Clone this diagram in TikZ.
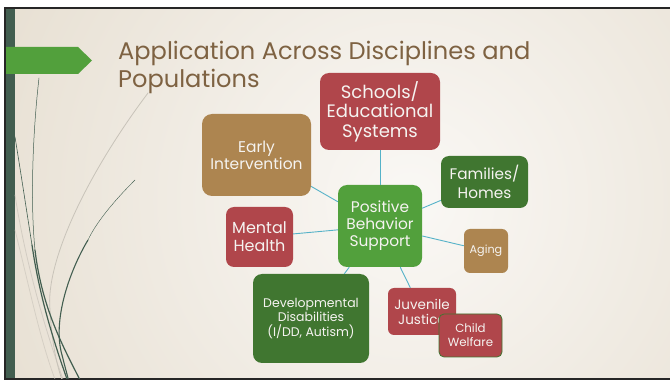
\documentclass[tikz,border=0pt]{standalone}
\usepackage{fontspec}
\setmainfont{Poppins}
\definecolor{bgin}{RGB}{250,248,245}
\definecolor{bgout}{RGB}{226,217,201}
\definecolor{barcol}{RGB}{66,94,80}
\definecolor{arrowgreen}{RGB}{82,160,60}
\definecolor{titlecol}{RGB}{126,98,66}
\definecolor{redbox}{RGB}{176,70,75}
\definecolor{brownbox}{RGB}{173,133,80}
\definecolor{darkgreenbox}{RGB}{64,118,48}
\definecolor{greenbox}{RGB}{82,160,60}
\definecolor{linkcol}{RGB}{85,178,200}
\definecolor{txtcol}{RGB}{245,243,240}
\definecolor{greycurve}{RGB}{200,195,185}
\tikzset{
  box/.style={rounded corners=#1, text=txtcol, align=center, inner sep=0pt},
  box/.default=8pt,
  link/.style={draw=linkcol, line width=0.9pt},
  deco/.style={draw=barcol, line cap=round},
  decogrey/.style={draw=greycurve, line cap=round}
}
\begin{document}
\begin{tikzpicture}[x=1pt,y=-1pt]
\useasboundingbox (0,0) rectangle (670,382);
\fill[white] (0,0) rectangle (670,382);
% slide background
\begin{scope}
\clip (5,9) rectangle (670,378);
\shade[inner color=bgin, outer color=bgout] (410,200) circle (580);
\end{scope}
% frame lines
\fill[black!85] (4,7) rectangle (670,9);
\fill[black!85] (4,7) rectangle (6,380);
\fill[black!85] (4,378) rectangle (670,380);
% dark bar
\fill[barcol] (6,9) rectangle (15,378);
% decorative curves
\begin{scope}
\clip (6,9) rectangle (670,378);
\draw[decogrey, line width=0.8pt] (148,93) .. controls (90,170) and (45,260) .. (50,310) .. controls (52,345) and (57,365) .. (62,380);
\draw[decogrey, line width=0.8pt, opacity=0.7] (15,195) .. controls (25,260) and (45,330) .. (64,382);
\draw[decogrey, line width=0.8pt, opacity=0.6] (15,230) .. controls (30,290) and (40,340) .. (56,382);
\draw[deco, line width=0.5pt] (39,78) .. controls (33,130) and (30,200) .. (35,250);
\draw[deco, line width=1.2pt] (35,250) .. controls (42,310) and (65,350) .. (81,382);
\draw[deco, line width=0.6pt] (15,137) .. controls (22,180) and (28,220) .. (32,245);
\draw[deco, line width=1.2pt] (32,245) .. controls (40,300) and (55,345) .. (68,382);
\draw[deco, line width=0.4pt] (135,180) .. controls (110,205) and (95,225) .. (88,240);
\draw[deco, line width=1.1pt] (88,240) .. controls (70,270) and (52,320) .. (62,355) .. controls (65,367) and (67,374) .. (69,382);
\end{scope}
% green arrow
\fill[arrowgreen] (6,47) -- (78,47) -- (92,60.5) -- (78,74) -- (6,74) -- cycle;
% title
\node[anchor=base west, text=titlecol, font=\fontsize{24.1}{28}\selectfont, inner sep=0pt] (title1) at (118,60) {Application Across Disciplines and};
\node[anchor=base west, text=titlecol, font=\fontsize{24.1}{28}\selectfont, inner sep=0pt] (title2) at (118,88) {Populations};
% nodes
\node[box=9pt, fill=greenbox, minimum width=84pt, minimum height=82pt, font=\fontsize{15.4}{17}\selectfont] (pbs) at (380,226) {Positive\\Behavior\\Support};
\node[box=9pt, fill=redbox, minimum width=120pt, minimum height=77pt, font=\fontsize{18}{19.5}\selectfont] (school) at (380,111.5) {Schools/\\Educational\\Systems};
\node[box=10pt, fill=brownbox, minimum width=109pt, minimum height=82pt, font=\fontsize{15.5}{17}\selectfont] (early) at (256.5,155) {Early\\Intervention};
\node[box=8pt, fill=darkgreenbox, minimum width=87pt, minimum height=52pt, font=\fontsize{15.3}{19}\selectfont] (family) at (484.5,182) {Families/\\Homes};
\node[box=8pt, fill=redbox, minimum width=67pt, minimum height=60pt, font=\fontsize{16}{18}\selectfont] (mental) at (259.5,237) {Mental\\Health};
\node[box=6pt, fill=brownbox, minimum width=44pt, minimum height=44pt, font=\fontsize{11.2}{13}\selectfont] (aging) at (486,251) {Aging};
\node[box=9pt, fill=darkgreenbox, minimum width=116pt, minimum height=89pt, font=\fontsize{12.5}{14.5}\selectfont] (dev) at (311,318.5) {Developmental\\Disabilities\\(I/DD, Autism)};
\node[box=6pt, fill=redbox, minimum width=68pt, minimum height=47pt, font=\fontsize{13.5}{15}\selectfont] (juv) at (422,311.5) {Juvenile\\Justice};
\node[box=5pt, fill=redbox, draw=darkgreenbox, line width=0.8pt, minimum width=63pt, minimum height=43pt, font=\fontsize{11.8}{14}\selectfont] (child) at (470.5,335.5) {Child\\Welfare};
% connectors
\draw[link] (pbs) -- (school);
\draw[link] (pbs) -- (early);
\draw[link] (pbs) -- (family);
\draw[link] (pbs) -- (mental);
\draw[link] (pbs) -- (aging);
\draw[link] (pbs) -- (dev);
\draw[link] (pbs) -- (juv);
\end{tikzpicture}
\end{document}
